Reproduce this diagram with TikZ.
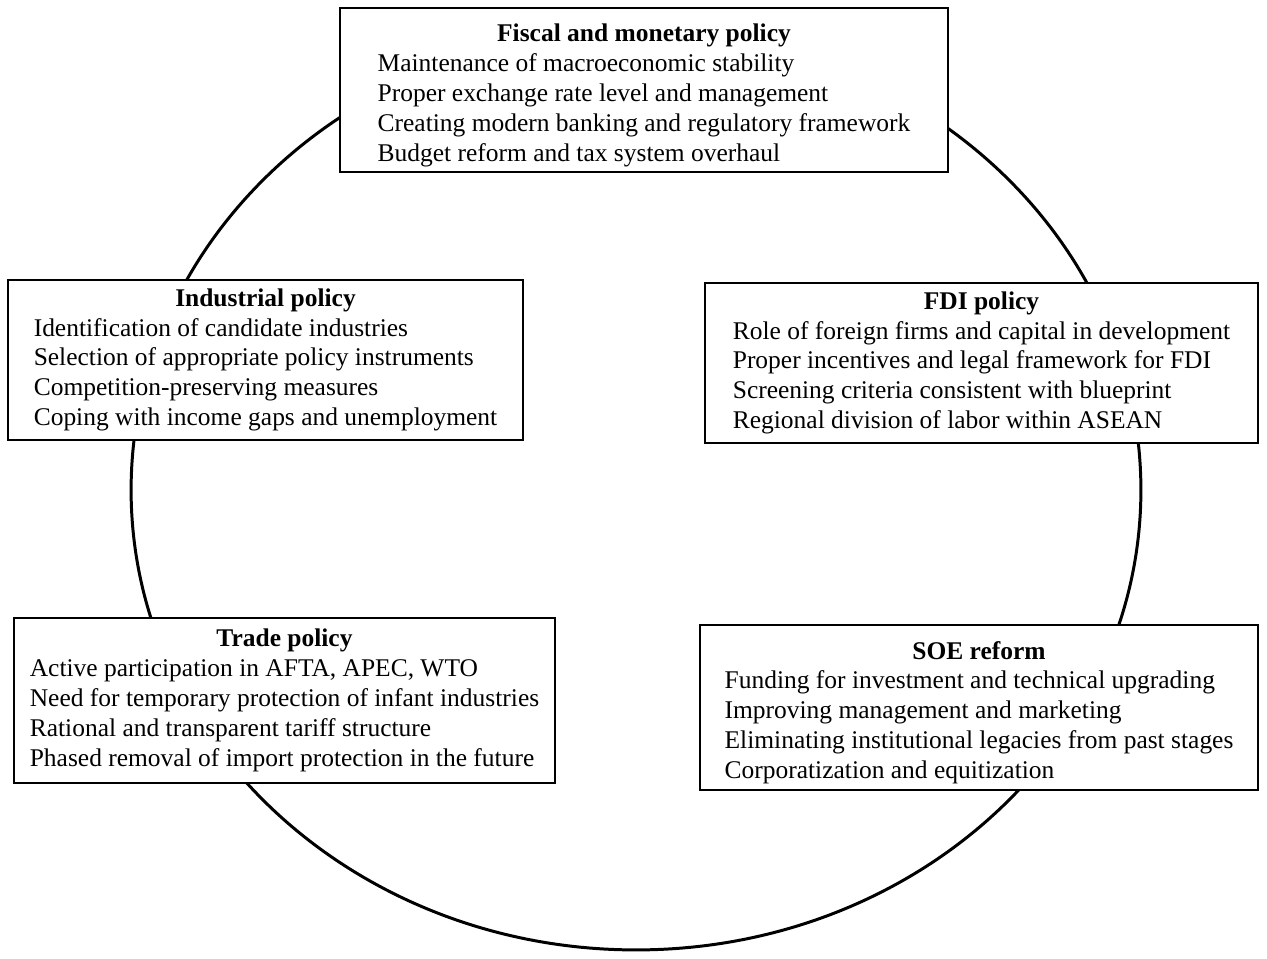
\documentclass[tikz,border=0pt]{standalone}
\usepackage{fontspec}
\setmainfont{Liberation Serif}
\begin{document}
\begin{tikzpicture}[x=0.02cm, y=-0.02cm,
  policybox/.style={draw, line width=1.1pt, fill=white, inner sep=0pt, font=\fontsize{14.5}{17}\selectfont},
  ringline/.style={line width=1.7pt}]
\useasboundingbox (0,0) rectangle (1267,958);

\coordinate (c) at (636,490);
\draw [ringline] (c) ellipse [x radius=10.1cm, y radius=9.2cm];

\node [policybox, minimum width=12.16cm, minimum height=3.28cm] (fiscal) at (644,90) {\begin{tabular}{@{}l@{}}
\multicolumn{1}{@{}c@{}}{\rule{0pt}{18pt}\textbf{Fiscal and monetary policy}}\\
Maintenance of macroeconomic stability\\
Proper exchange rate level and management\\
Creating modern banking and regulatory framework\\
Budget reform and tax system overhaul
\end{tabular}};
\node [policybox, minimum width=10.3cm, minimum height=3.2cm] (industrial) at (265.5,360) {\begin{tabular}{@{}l@{}}
\multicolumn{1}{@{}c@{}}{\textbf{Industrial policy}}\\
Identification of candidate industries\\
Selection of appropriate policy instruments\\
Competition-preserving measures\\
Coping with income gaps and unemployment
\end{tabular}};
\node [policybox, minimum width=11.06cm, minimum height=3.2cm] (fdi) at (981.5,363) {\begin{tabular}{@{}l@{}}
\multicolumn{1}{@{}c@{}}{\textbf{FDI policy}}\\
Role of foreign firms and capital in development\\
Proper incentives and legal framework for FDI\\
Screening criteria consistent with blueprint\\
Regional division of labor within ASEAN
\end{tabular}};
\node [policybox, minimum width=10.82cm, minimum height=3.3cm] (trade) at (284.5,700.5) {\begin{tabular}{@{}l@{}}
\multicolumn{1}{@{}c@{}}{\textbf{Trade policy}}\\
Active participation in AFTA, APEC, WTO\\
Need for temporary protection of infant industries\\
Rational and transparent tariff structure\\
Phased removal of import protection in the future
\end{tabular}};
\node [policybox, minimum width=11.16cm, minimum height=3.3cm] (soe) at (979,707.5) {\begin{tabular}{@{}l@{}}
\multicolumn{1}{@{}c@{}}{\rule{0pt}{18pt}\textbf{SOE reform}}\\
Funding for investment and technical upgrading\\
Improving management and marketing\\
Eliminating institutional legacies from past stages\\
Corporatization and equitization
\end{tabular}};
\end{tikzpicture}
\end{document}
